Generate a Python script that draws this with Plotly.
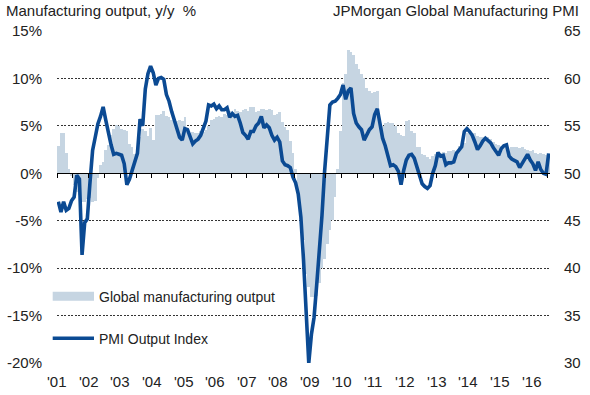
import plotly.graph_objects as go

years = ["'01", "'02", "'03", "'04", "'05", "'06", "'07", "'08",
         "'09", "'10", "'11", "'12", "'13", "'14", "'15", "'16"]

# Global manufacturing output, y/y %  (monthly, Jan 2001 - Jul 2016)
output = [
    2.9, 4.2, 4.2, 2.1, 0.4, -0.3, -1.2, -2.0, -2.3, -3.0, -3.0, -2.7,      # 2001
    -2.6, -3.0, -2.9, -0.5, 0.9, 1.2, 2.5, 3.0, 4.0, 4.7, 5.1, 5.0,         # 2002
    4.7, 4.6, 4.5, 3.1, 2.8, 2.0, 2.1, 3.8, 4.7, 4.5, 3.9, 4.8,             # 2003
    3.5, 6.1, 6.1, 6.2, 6.6, 6.0, 5.9, 5.6, 5.6, 5.5, 5.6, 5.5,             # 2004
    5.9, 4.4, 4.3, 4.4, 4.2, 4.3, 4.5, 4.4, 4.6, 5.0, 5.6, 5.7,             # 2005
    5.9, 6.0, 5.9, 6.2, 6.1, 6.6, 6.5, 6.8, 6.6, 6.5, 6.7, 6.8,             # 2006
    6.6, 7.0, 7.0, 6.5, 6.6, 6.8, 6.8, 6.7, 6.8, 6.7, 6.1, 6.2,             # 2007
    6.5, 5.4, 4.9, 4.6, 3.4, 2.1, 0.4, -2.1, -4.0, -7.0, -10.6, -12.0,      # 2008
    -13.0, -13.0, -12.9, -11.6, -10.0, -9.0, -7.5, -6.0, -4.9, -2.5, 0.5, 4.5,  # 2009
    9.5, 10.5, 13.0, 12.8, 12.5, 11.5, 11.0, 10.5, 10.0, 9.0, 8.7, 8.5,     # 2010
    8.6, 8.7, 5.5, 5.0, 5.3, 5.4, 5.3, 5.3, 5.0, 4.3, 4.0, 3.9,             # 2011
    5.5, 5.6, 4.5, 4.2, 2.8, 2.8, 2.0, 1.9, 1.7, 1.5, 1.8, 2.0,             # 2012
    2.1, 2.1, 2.2, 2.1, 2.3, 2.4, 2.5, 2.4, 2.9, 3.0, 3.2, 4.3,             # 2013
    4.4, 4.2, 4.2, 3.9, 3.8, 3.8, 3.7, 3.8, 3.6, 3.3, 3.1, 3.0,             # 2014
    2.9, 3.0, 2.8, 2.2, 2.8, 2.8, 2.8, 2.7, 2.8, 2.6, 2.5, 2.4,             # 2015
    2.5, 2.1, 2.0, 2.1, 2.0, 1.9, 2.0,                                      # 2016
]

# JPMorgan Global Manufacturing PMI Output Index
pmi = [
    47.0, 45.9, 47.0, 46.1, 46.3, 47.1, 47.5, 49.8, 49.4, 41.4, 44.8, 45.2,  # 2001
    49.0, 52.4, 53.8, 55.2, 56.0, 57.0, 55.6, 54.2, 53.0, 52.0, 52.1, 52.0,  # 2002
    51.9, 51.0, 48.8, 49.4, 50.4, 51.3, 52.1, 55.7, 55.0, 58.9, 60.5, 61.3,  # 2003
    60.6, 59.3, 60.0, 60.1, 59.9, 58.3, 57.6, 56.5, 55.6, 55.0, 53.8, 53.5,  # 2004
    54.7, 54.6, 53.8, 53.1, 53.4, 53.6, 54.0, 54.7, 55.5, 57.2, 57.1, 57.3,  # 2005
    56.8, 57.1, 56.7, 56.7, 56.9, 55.9, 56.3, 56.0, 56.1, 55.3, 54.3, 54.0,  # 2006
    53.6, 54.4, 54.4, 55.0, 55.3, 56.0, 54.8, 55.1, 54.8, 54.0, 53.5, 53.8,  # 2007
    53.3, 51.3, 50.9, 50.8, 50.6, 49.6, 49.0, 47.8, 45.4, 40.9, 36.0, 30.0,  # 2008
    33.0, 34.8, 38.2, 41.6, 45.5, 50.2, 54.2, 57.2, 57.5, 57.6, 57.9, 58.3,  # 2009
    59.3, 57.8, 58.7, 59.0, 56.3, 55.3, 54.9, 54.6, 53.5, 54.0, 54.6, 54.9,  # 2010
    56.2, 56.8, 55.0, 53.7, 52.9, 51.8, 50.8, 50.9, 50.7, 50.2, 48.8, 50.3,  # 2011
    51.4, 51.9, 52.0, 51.6, 50.6, 49.6, 48.9, 48.6, 48.4, 48.7, 50.0, 50.8,  # 2012
    52.2, 51.8, 51.9, 50.9, 51.1, 51.1, 51.2, 52.1, 52.5, 52.8, 54.4, 54.7,  # 2013
    54.4, 54.0, 53.3, 52.5, 52.9, 53.4, 53.7, 53.5, 53.2, 52.7, 52.3, 51.9,  # 2014
    52.6, 52.9, 53.0, 51.8, 51.5, 51.4, 51.2, 50.6, 51.1, 51.6, 52.0, 51.4,  # 2015
    51.0, 50.3, 51.2, 50.4, 50.0, 49.9, 52.1,                                # 2016
]

left_ticks = [-20, -15, -10, -5, 0, 5, 10, 15]
right_ticks = [30, 35, 40, 45, 50, 55, 60, 65]

BAR_COLOR = "#c6d5e2"
LINE_COLOR = "#0b4a93"
TEXT_COLOR = "#222222"
GRID_COLOR = "#333333"
FONT = "Liberation Sans, Arial, sans-serif"
FS = 15
LEG_FS = 14

n = len(output)
xs = list(range(n))

W, H = 590, 395
L, R, T, B = 57, 40, 31, 32
pw, ph = W - L - R, H - T - B


def px(v):
    return (v - L) / pw


def py(v):
    return 1 - (v - T) / ph


fig = go.Figure()
fig.add_trace(go.Bar(x=xs, y=output, marker=dict(color=BAR_COLOR, line_width=0),
                     xaxis="x", yaxis="y", name="Global manufacturing output"))
fig.add_trace(go.Scatter(x=xs, y=pmi, mode="lines",
                         line=dict(color=LINE_COLOR, width=3.6),
                         xaxis="x", yaxis="y2", name="PMI Output Index"))

fig.update_layout(
    width=W, height=H,
    margin=dict(l=L, r=R, t=T, b=B, autoexpand=False),
    paper_bgcolor="white", plot_bgcolor="white",
    showlegend=False,
    bargap=0,
    font=dict(family=FONT, size=FS, color=TEXT_COLOR),
    xaxis=dict(range=[-0.5, n - 0.5], anchor="free", position=20 / 35,
               tickvals=[-0.5 + 6 * i for i in range(n // 6 + 1)],
               ticks="outside", ticklen=4, tickwidth=1, tickcolor="#000",
               showline=True, linecolor="#000", linewidth=1,
               showticklabels=False, showgrid=False, zeroline=False,
               automargin=False, layer="above traces"),
    yaxis=dict(range=[-20, 15], tickvals=left_ticks,
               ticktext=[f"{v}%" for v in left_ticks],
               showgrid=True, gridcolor=GRID_COLOR, griddash="2px,1.5px", gridwidth=1,
               zeroline=False, showline=False, ticks="", automargin=False,
               tickfont=dict(size=FS, color=TEXT_COLOR), ticklabelstandoff=14),
    yaxis2=dict(range=[30, 65], tickvals=right_ticks, overlaying="y", side="right",
                showgrid=True, gridcolor=GRID_COLOR, griddash="2px,1.5px", gridwidth=1,
                zeroline=False, showline=False, ticks="",
                automargin=False,
                tickfont=dict(size=FS, color=TEXT_COLOR), ticklabelstandoff=13),
)

# year labels along the bottom, placed on the data x scale
for i, lab in enumerate(years):
    fig.add_annotation(xref="x", yref="paper", x=-0.5 + 12 * i, y=py(381),
                       xanchor="center", yanchor="middle", showarrow=False,
                       text=lab, font=dict(size=FS, color=TEXT_COLOR))

# manual legend
fig.add_shape(type="rect", xref="paper", yref="paper",
              x0=px(52.7), x1=px(94), y0=py(300.7), y1=py(291.7),
              fillcolor=BAR_COLOR, line_width=0)
fig.add_shape(type="line", xref="paper", yref="paper",
              x0=px(52.7), x1=px(94), y0=py(338.3), y1=py(338.3),
              line=dict(color=LINE_COLOR, width=3.6))
fig.add_annotation(xref="paper", yref="paper", x=px(97), y=py(296.5),
                   xanchor="left", yanchor="middle", showarrow=False,
                   text="Global manufacturing output", font=dict(size=LEG_FS, color=TEXT_COLOR))
fig.add_annotation(xref="paper", yref="paper", x=px(97), y=py(338.5),
                   xanchor="left", yanchor="middle", showarrow=False,
                   text="PMI Output Index", font=dict(size=LEG_FS, color=TEXT_COLOR))

# axis titles
fig.add_annotation(xref="paper", yref="paper", x=px(4), y=py(10.5),
                   xanchor="left", yanchor="middle", showarrow=False,
                   text="Manufacturing output, y/y  %", font=dict(size=FS, color=TEXT_COLOR))
fig.add_annotation(xref="paper", yref="paper", x=px(331), y=py(10.5),
                   xanchor="left", yanchor="middle", showarrow=False,
                   text="JPMorgan Global Manufacturing PMI", font=dict(size=FS, color=TEXT_COLOR))

fig.write_html("out.html", config={"displayModeBar": False},
               post_script="document.body.style.margin='0';document.body.style.padding='0';")
